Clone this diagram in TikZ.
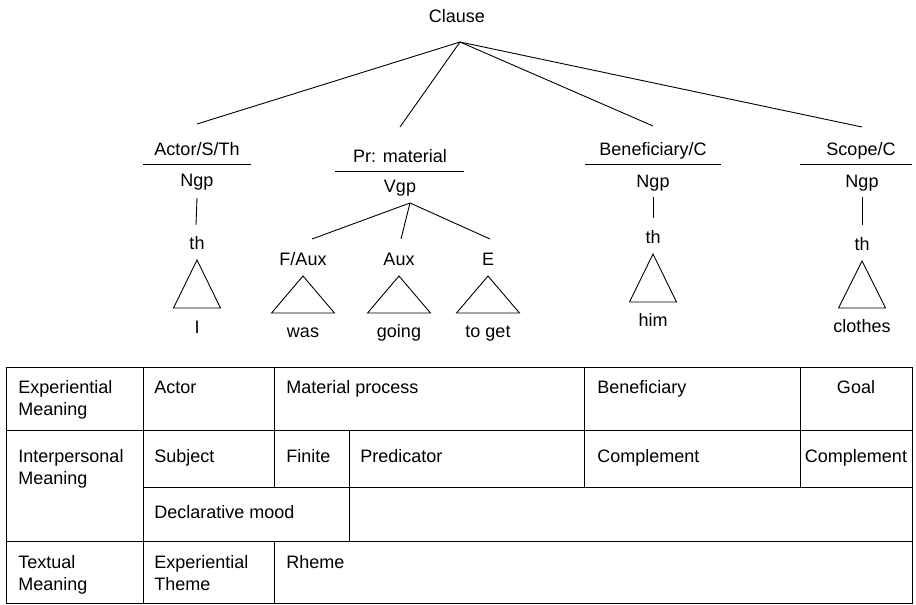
\documentclass[tikz,border=0pt]{standalone}
\usepackage{fontspec}
\setmainfont{Liberation Sans}

\begin{document}
\begin{tikzpicture}[x=1pt, y=-1pt, line width=0.9pt,
    lbl/.style={anchor=base, inner sep=0pt, font=\fontsize{18}{22}\selectfont},
    cell/.style={anchor=base west, inner sep=0pt, align=left, font=\fontsize{18}{22}\selectfont}]
  \useasboundingbox (0,0) rectangle (916,605);

  % tree
  \node[lbl] (clause) at (457,22) {Clause};
  \coordinate (c) at (460,42);
  \node[lbl] (actor) at (197,155) {Actor/S/Th};
  \node[lbl] (pr)    at (400,162) {Pr: material};
  \node[lbl] (ben)   at (653,155) {Beneficiary/C};
  \node[lbl] (scope) at (861,155) {Scope/C};
  \coordinate (actor-t) at (197,124);
  \coordinate (pr-t)    at (400,127);
  \coordinate (ben-t)   at (653,126);
  \coordinate (scope-t) at (862,127);
  \draw (c) -- (actor-t);
  \draw (c) -- (pr-t);
  \draw (c) -- (ben-t);
  \draw (c) -- (scope-t);

  \draw (143,164) -- (251,164);
  \draw (335,171) -- (464,171);
  \draw (585,164) -- (721,164);
  \draw (800,164) -- (912,164);

  \node[lbl] (ngp-1) at (197,186) {Ngp};
  \node[lbl] (vgp)   at (400,192) {Vgp};
  \node[lbl] (ngp-2) at (653,187) {Ngp};
  \node[lbl] (ngp-3) at (862,187) {Ngp};

  \node[lbl] (th-1) at (197,249) {th};
  \node[lbl] (th-2) at (653,243) {th};
  \node[lbl] (th-3) at (862,250) {th};
  \draw (197,198) -- (196,225);
  \draw (653,197) -- (653,218);
  \draw (862,197) -- (862,225);

  \coordinate (v) at (410,203);
  \node[lbl] (faux) at (303,265) {F/Aux};
  \node[lbl] (aux)  at (399,265) {Aux};
  \node[lbl] (e)    at (488,265) {E};
  \coordinate (faux-t) at (312,239);
  \coordinate (aux-t)  at (401,239);
  \coordinate (e-t)    at (490,239);
  \draw (v) -- (faux-t);
  \draw (v) -- (aux-t);
  \draw (v) -- (e-t);

  \foreach \x/\t/\b/\w in {197/260/308/23.5, 303/276/313/31.5, 399/276/313/31.5,
                           488/276/313/31.5, 653/254/302/23.5, 862/261/308/23.5}
    \draw (\x,\t) -- (\x+\w,\b) -- (\x-\w,\b) -- cycle;

  \node[lbl] (w-i)    at (197,333) {I};
  \node[lbl] (w-was)  at (303,337) {was};
  \node[lbl] (w-go)   at (399,337) {going};
  \node[lbl] (w-get)  at (488,337) {to get};
  \node[lbl] (w-him)  at (653,326) {him};
  \node[lbl] (w-clo)  at (862,332) {clothes};

  % table
  \draw (6,367) rectangle (912,603);
  \draw (6,430) -- (912,430);
  \draw (143,487) -- (912,487);
  \draw (6,541) -- (912,541);
  \draw (143,367) -- (143,603);
  \draw (274,367) -- (274,487);
  \draw (274,541) -- (274,603);
  \draw (349,430) -- (349,541);
  \draw (584,367) -- (584,487);
  \draw (800,367) -- (800,487);

  % multi-line cells sit on the baseline of their last line
  \node[cell] (t-1-1) at (18,415)  {Experiential\\Meaning};
  \node[cell] (t-1-2) at (154,393) {Actor};
  \node[cell] (t-1-3) at (286,393) {Material process};
  \node[cell] (t-1-4) at (597,393) {Beneficiary};
  \node[lbl]  (t-1-5) at (856,393) {Goal};

  \node[cell] (t-2-1) at (18,484)  {Interpersonal\\Meaning};
  \node[cell] (t-2-2) at (154,462) {Subject};
  \node[cell] (t-2-3) at (286,462) {Finite};
  \node[cell] (t-2-4) at (360,462) {Predicator};
  \node[cell] (t-2-5) at (597,462) {Complement};
  \node[lbl]  (t-2-6) at (856,462) {Complement};

  \node[cell] (t-3-2) at (154,518) {Declarative mood};

  \node[cell] (t-4-1) at (18,590)  {Textual\\Meaning};
  \node[cell] (t-4-2) at (154,590) {Experiential\\Theme};
  \node[cell] (t-4-3) at (286,568) {Rheme};
\end{tikzpicture}
\end{document}
